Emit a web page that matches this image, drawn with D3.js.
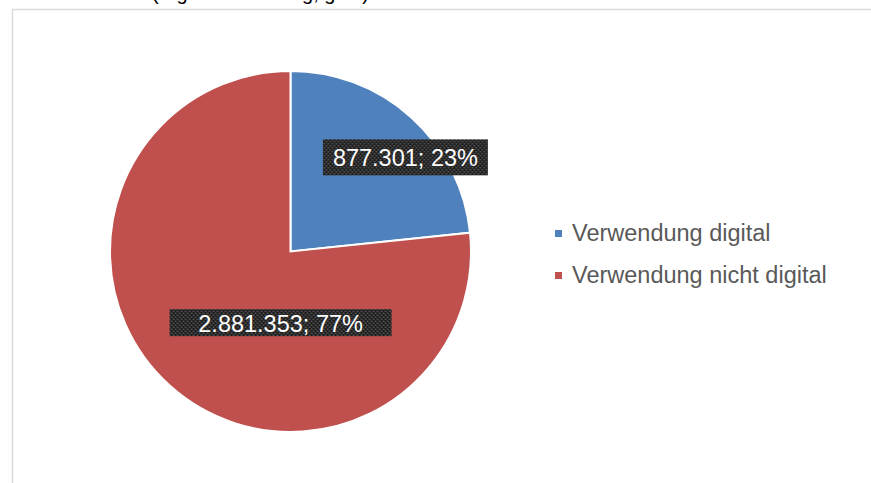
<!DOCTYPE html>
<html>
<head>
<meta charset="utf-8">
<script src="https://cdn.jsdelivr.net/npm/d3@7"></script>
<style>
  body { margin: 0; background: #fff; }
  text { font-family: "Liberation Sans", Arial, sans-serif; }
</style>
</head>
<body>
<div id="wrapper"></div>
<script>
// data
const categories = ["Verwendung digital", "Verwendung nicht digital"]
const values = [877301, 2881353]
const labelTexts = ["877.301; 23%", "2.881.353; 77%"]
const colors = ["#4F81BD", "#C0504D"]

const width = 871
const height = 483
const pieCenter = { x: 290.5, y: 251.5 }
const radius = 180.5

// label boxes (layout only)
const labelShift = [[40, -11], [65, -12]]
const labelBox = [[165, 36], [222, 27]]

const svg = d3.select("#wrapper")
    .append("svg")
    .attr("width", width)
    .attr("height", height)

const defs = svg.append("defs")
const pat = defs.append("pattern")
    .attr("id", "dots")
    .attr("patternUnits", "userSpaceOnUse")
    .attr("width", 4)
    .attr("height", 4)
pat.append("rect").attr("width", 4).attr("height", 4).attr("fill", "#1c1c1c")
pat.append("rect").attr("x", 0).attr("y", 0).attr("width", 2).attr("height", 1).attr("fill", "#6a6a6a")
pat.append("rect").attr("x", 2).attr("y", 2).attr("width", 2).attr("height", 1).attr("fill", "#6a6a6a")

// cut-off caption above the chart
svg.append("text")
    .attr("x", 152)
    .attr("y", 0)
    .attr("font-size", "20px")
    .attr("fill", "#000")
    .text("(Eigene Erhebung, ges.)")

// chart frame
svg.append("rect")
    .attr("x", 12.5)
    .attr("y", 9.5)
    .attr("width", 880)
    .attr("height", 500)
    .attr("fill", "none")
    .attr("stroke", "#d9d9d9")
    .attr("stroke-width", 1.5)

const pie = d3.pie().sort(null).value(d => d)
const arcs = pie(values)
const arc = d3.arc().innerRadius(0).outerRadius(radius)
const labelArc = d3.arc().innerRadius(radius * 0.62).outerRadius(radius * 0.62)

const g = svg.append("g")
    .attr("transform", `translate(${pieCenter.x},${pieCenter.y})`)

g.selectAll("path")
    .data(arcs)
    .join("path")
    .attr("d", arc)
    .attr("fill", (d, i) => colors[i])
    .attr("stroke", "#fff")
    .attr("stroke-width", 2)
    .attr("stroke-linejoin", "miter")

// data labels
const labels = g.selectAll("g.lbl")
    .data(arcs)
    .join("g")
    .attr("class", "lbl")
    .attr("transform", (d, i) => {
        const c = labelArc.centroid(d)
        return `translate(${c[0] + labelShift[i][0]},${c[1] + labelShift[i][1]})`
    })

labels.append("rect")
    .attr("x", (d, i) => -labelBox[i][0] / 2)
    .attr("y", (d, i) => -labelBox[i][1] / 2)
    .attr("width", (d, i) => labelBox[i][0])
    .attr("height", (d, i) => labelBox[i][1])
    .attr("fill", "url(#dots)")

labels.append("text")
    .attr("text-anchor", "middle")
    .attr("y", 9)
    .attr("font-size", "23.5px")
    .attr("fill", "#fff")
    .text((d, i) => labelTexts[i])

// legend
const legend = svg.append("g")
    .attr("transform", "translate(555,230)")

const items = legend.selectAll("g")
    .data(categories)
    .join("g")
    .attr("transform", (d, i) => `translate(0,${i * 42})`)

items.append("rect")
    .attr("width", 7)
    .attr("height", 7)
    .attr("fill", (d, i) => colors[i])

items.append("text")
    .attr("x", 17)
    .attr("y", 11)
    .attr("font-size", "23.5px")
    .attr("fill", "#595959")
    .text(d => d)
</script>
</body>
</html>
